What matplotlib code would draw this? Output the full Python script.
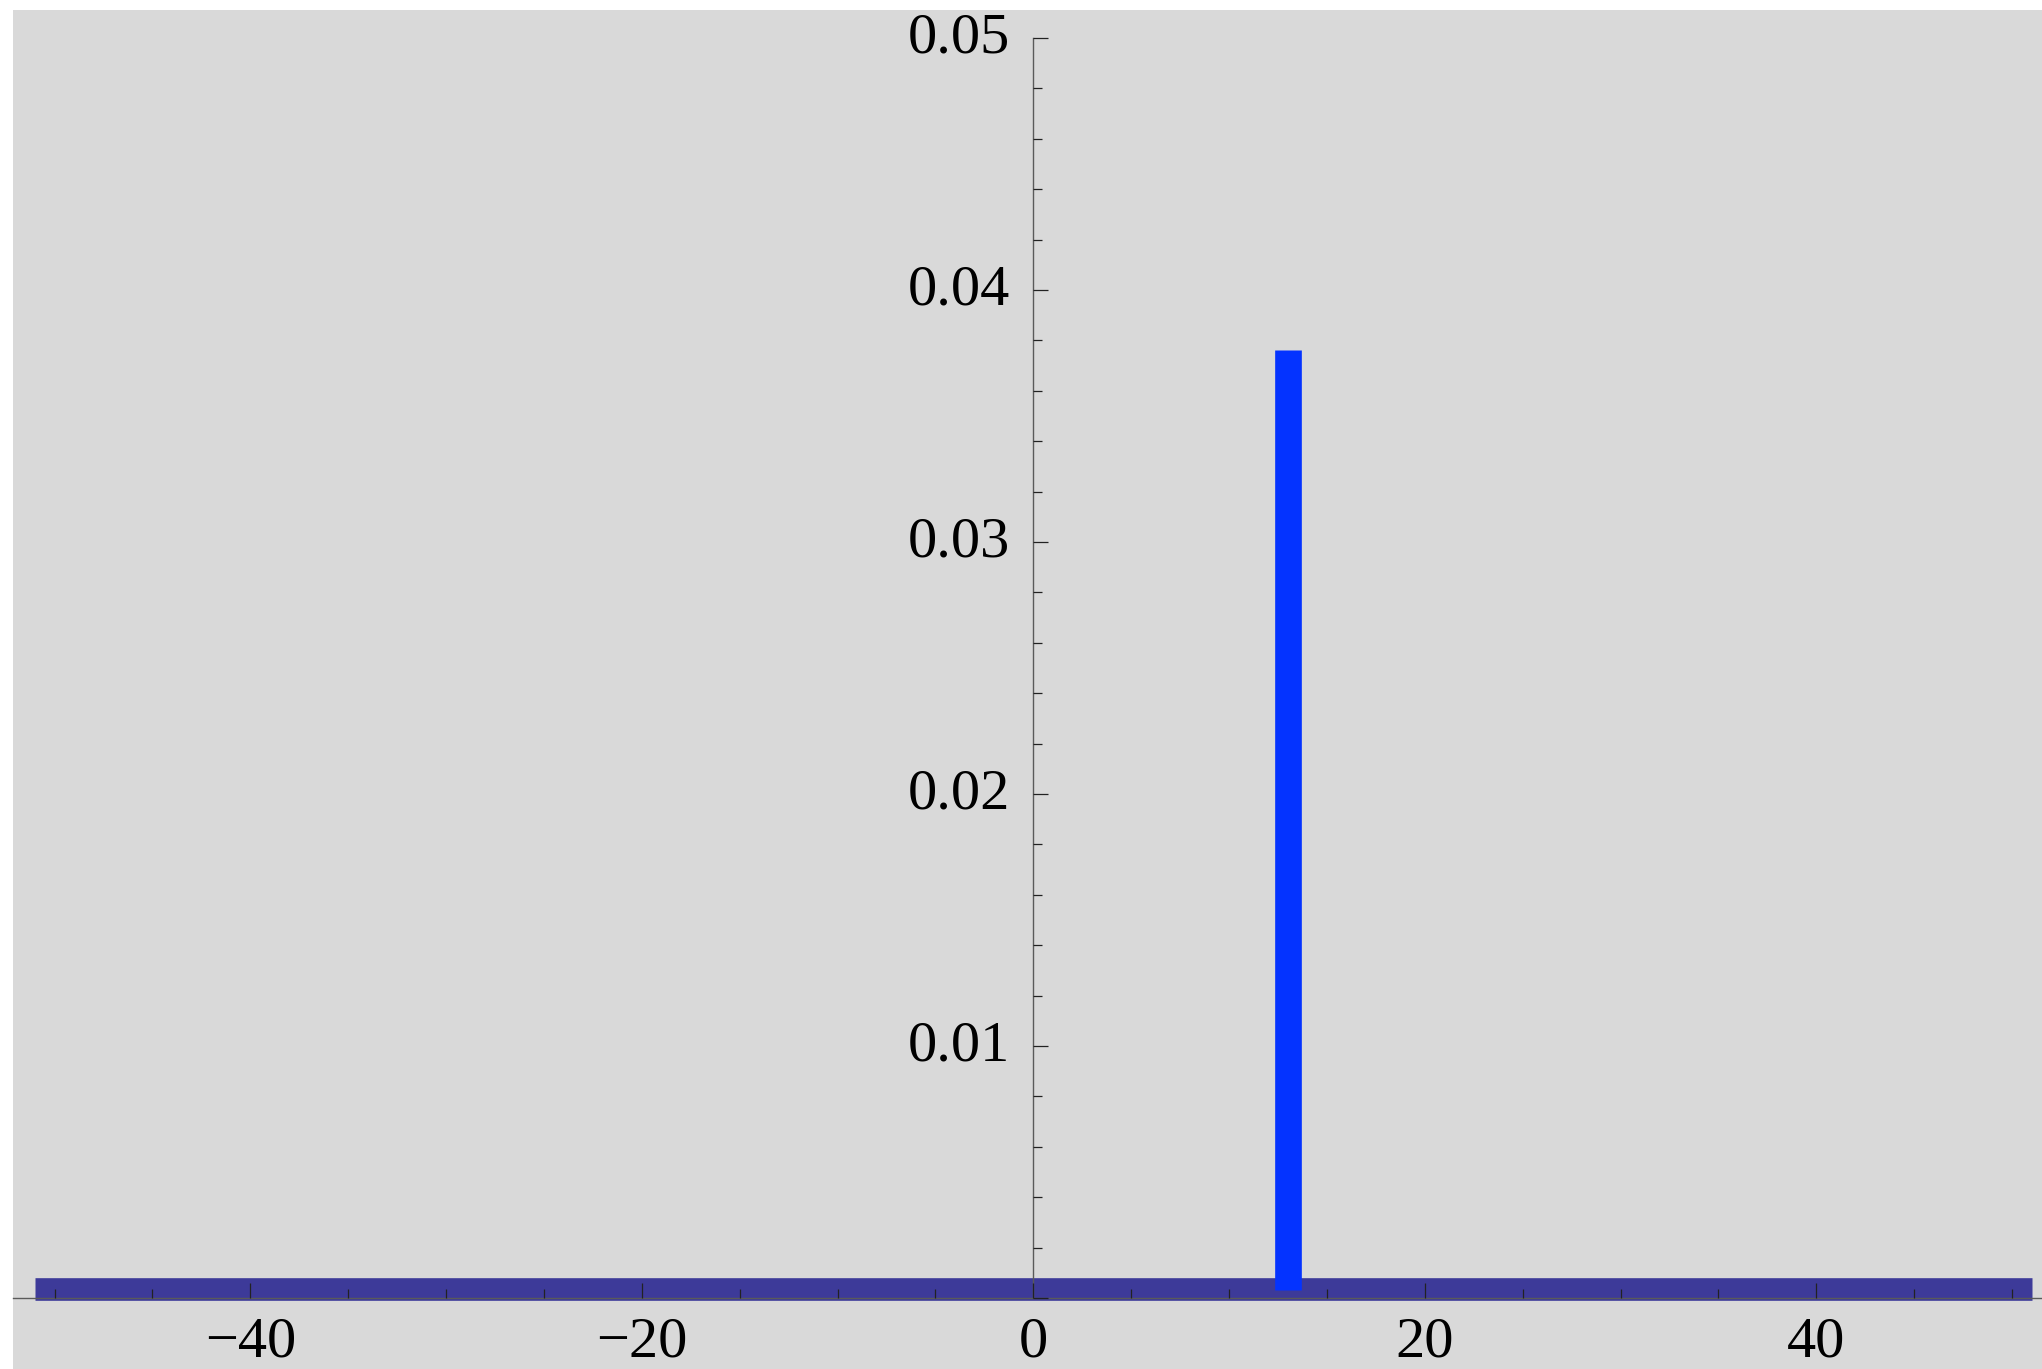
import numpy as np
import matplotlib
matplotlib.use("Agg")
import matplotlib.pyplot as plt
import matplotlib.transforms as mtransforms
from matplotlib.ticker import MultipleLocator, FixedLocator

# ---- data ----
band_x = [-51, 51]            # extent of the near-zero baseline distribution
band_y = [0.00037, 0.00037]   # its (tiny) value
spike_x = [13]
spike_top = [0.0376]
spike_bottom = [0.00032]

x_major = [-40, -20, 0, 20, 40]
y_major = [0.0, 0.01, 0.02, 0.03, 0.04, 0.05]
y_labels = ["", "0.01", "0.02", "0.03", "0.04", "0.05"]
x_labels = ["\u221240", "\u221220", "0", "20", "40"]

W, H = 2042, 1369
fig = plt.figure(figsize=(W / 100, H / 100), dpi=100, facecolor="white")
ax = fig.add_axes([13 / W, 0, (W - 13) / W, (H - 10) / H])
ax.set_facecolor("#d9d9d9")

ax.set_xlim(-52.12, 51.53)
ax.set_ylim(-0.002817, 0.05111)

# baseline band
ax.plot(band_x, band_y, color="#3d3a99", lw=16.3, solid_capstyle="butt", zorder=2)
# spike
ax.vlines(spike_x, spike_bottom, spike_top, color="#0433ff", lw=19.2,
          capstyle="butt", zorder=3)

for s in ["top", "right"]:
    ax.spines[s].set_visible(False)
ax.spines["left"].set_position(("data", 0))
ax.spines["bottom"].set_position(("data", 0))
ax.spines["left"].set_bounds(0, 0.05)
for s in ["left", "bottom"]:
    ax.spines[s].set_color("#5a5a5a")
    ax.spines[s].set_linewidth(1.0)
ax.set_axisbelow(False)

ax.xaxis.set_major_locator(FixedLocator(x_major))
ax.xaxis.set_minor_locator(MultipleLocator(5))
ax.yaxis.set_major_locator(FixedLocator(y_major))
ax.yaxis.set_minor_locator(FixedLocator(np.arange(0, 0.0501, 0.002)))
ax.set_xticklabels(x_labels)
ax.set_yticklabels(y_labels)

for lab in ax.get_xticklabels() + ax.get_yticklabels():
    lab.set_fontfamily("Liberation Serif")
    lab.set_fontsize(42)

ax.tick_params(axis="both", which="major", direction="in", length=10.8,
               width=0.9, color="#222222", labelcolor="black")
ax.tick_params(axis="both", which="minor", direction="in", length=6.3,
               width=0.9, color="#222222")
ax.tick_params(axis="x", which="major", pad=13.5)
ax.tick_params(axis="y", which="major", pad=16.5)

shift = mtransforms.ScaledTranslation(0, 4 / 72, fig.dpi_scale_trans)
for lab in ax.get_yticklabels():
    lab.set_transform(lab.get_transform() + shift)

fig.savefig("out.png", dpi=100, facecolor="white")
